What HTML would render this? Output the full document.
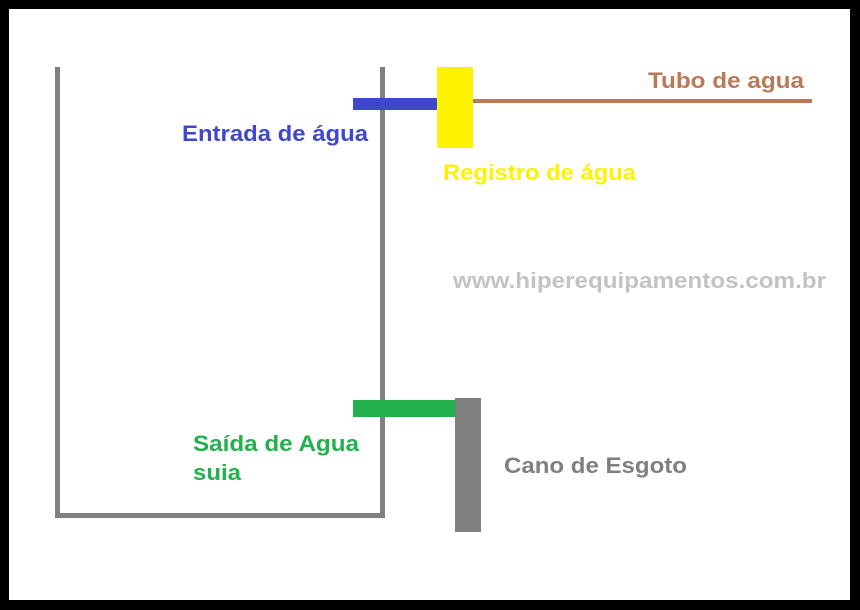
<!DOCTYPE html>
<html><head><style>html,body{margin:0;padding:0;background:#000}</style></head>
<body>
<svg width="860" height="610" xmlns="http://www.w3.org/2000/svg" style="display:block">
<rect x="0" y="0" width="860" height="610" fill="#000"/>
<rect x="9" y="9" width="841" height="591" fill="#fff"/>
<g fill="#808080">
<rect x="55" y="67" width="5" height="451"/>
<rect x="380" y="67" width="5" height="451"/>
<rect x="55" y="513" width="330" height="5"/>
<rect x="455" y="398" width="26" height="134"/>
</g>
<rect x="353" y="98" width="84" height="12" fill="#3f48cc"/>
<rect x="437" y="67" width="36" height="81" fill="#fff200"/>
<rect x="473" y="99" width="339" height="4" fill="#b97a57"/>
<rect x="353" y="400" width="102" height="17" fill="#22b14c"/>
<g font-family="Liberation Sans, Arial, sans-serif" font-weight="bold" font-size="22">
<text x="648" y="88" fill="#b97a57" textLength="156" lengthAdjust="spacingAndGlyphs">Tubo de agua</text>
<text x="182" y="141" fill="#3f48cc" textLength="186" lengthAdjust="spacingAndGlyphs">Entrada de água</text>
<text x="443" y="180" fill="#fff200" textLength="193" lengthAdjust="spacingAndGlyphs">Registro de água</text>
<text x="453" y="288" fill="#c3c3c3" textLength="373" lengthAdjust="spacingAndGlyphs">www.hiperequipamentos.com.br</text>
<text x="193" y="451" fill="#22b14c" textLength="166" lengthAdjust="spacingAndGlyphs">Saída de Agua</text>
<text x="193" y="480" fill="#22b14c" textLength="48" lengthAdjust="spacingAndGlyphs">suia</text>
<text x="504" y="473" fill="#7f7f7f" textLength="183" lengthAdjust="spacingAndGlyphs">Cano de Esgoto</text>
</g>
</svg>
</body></html>
